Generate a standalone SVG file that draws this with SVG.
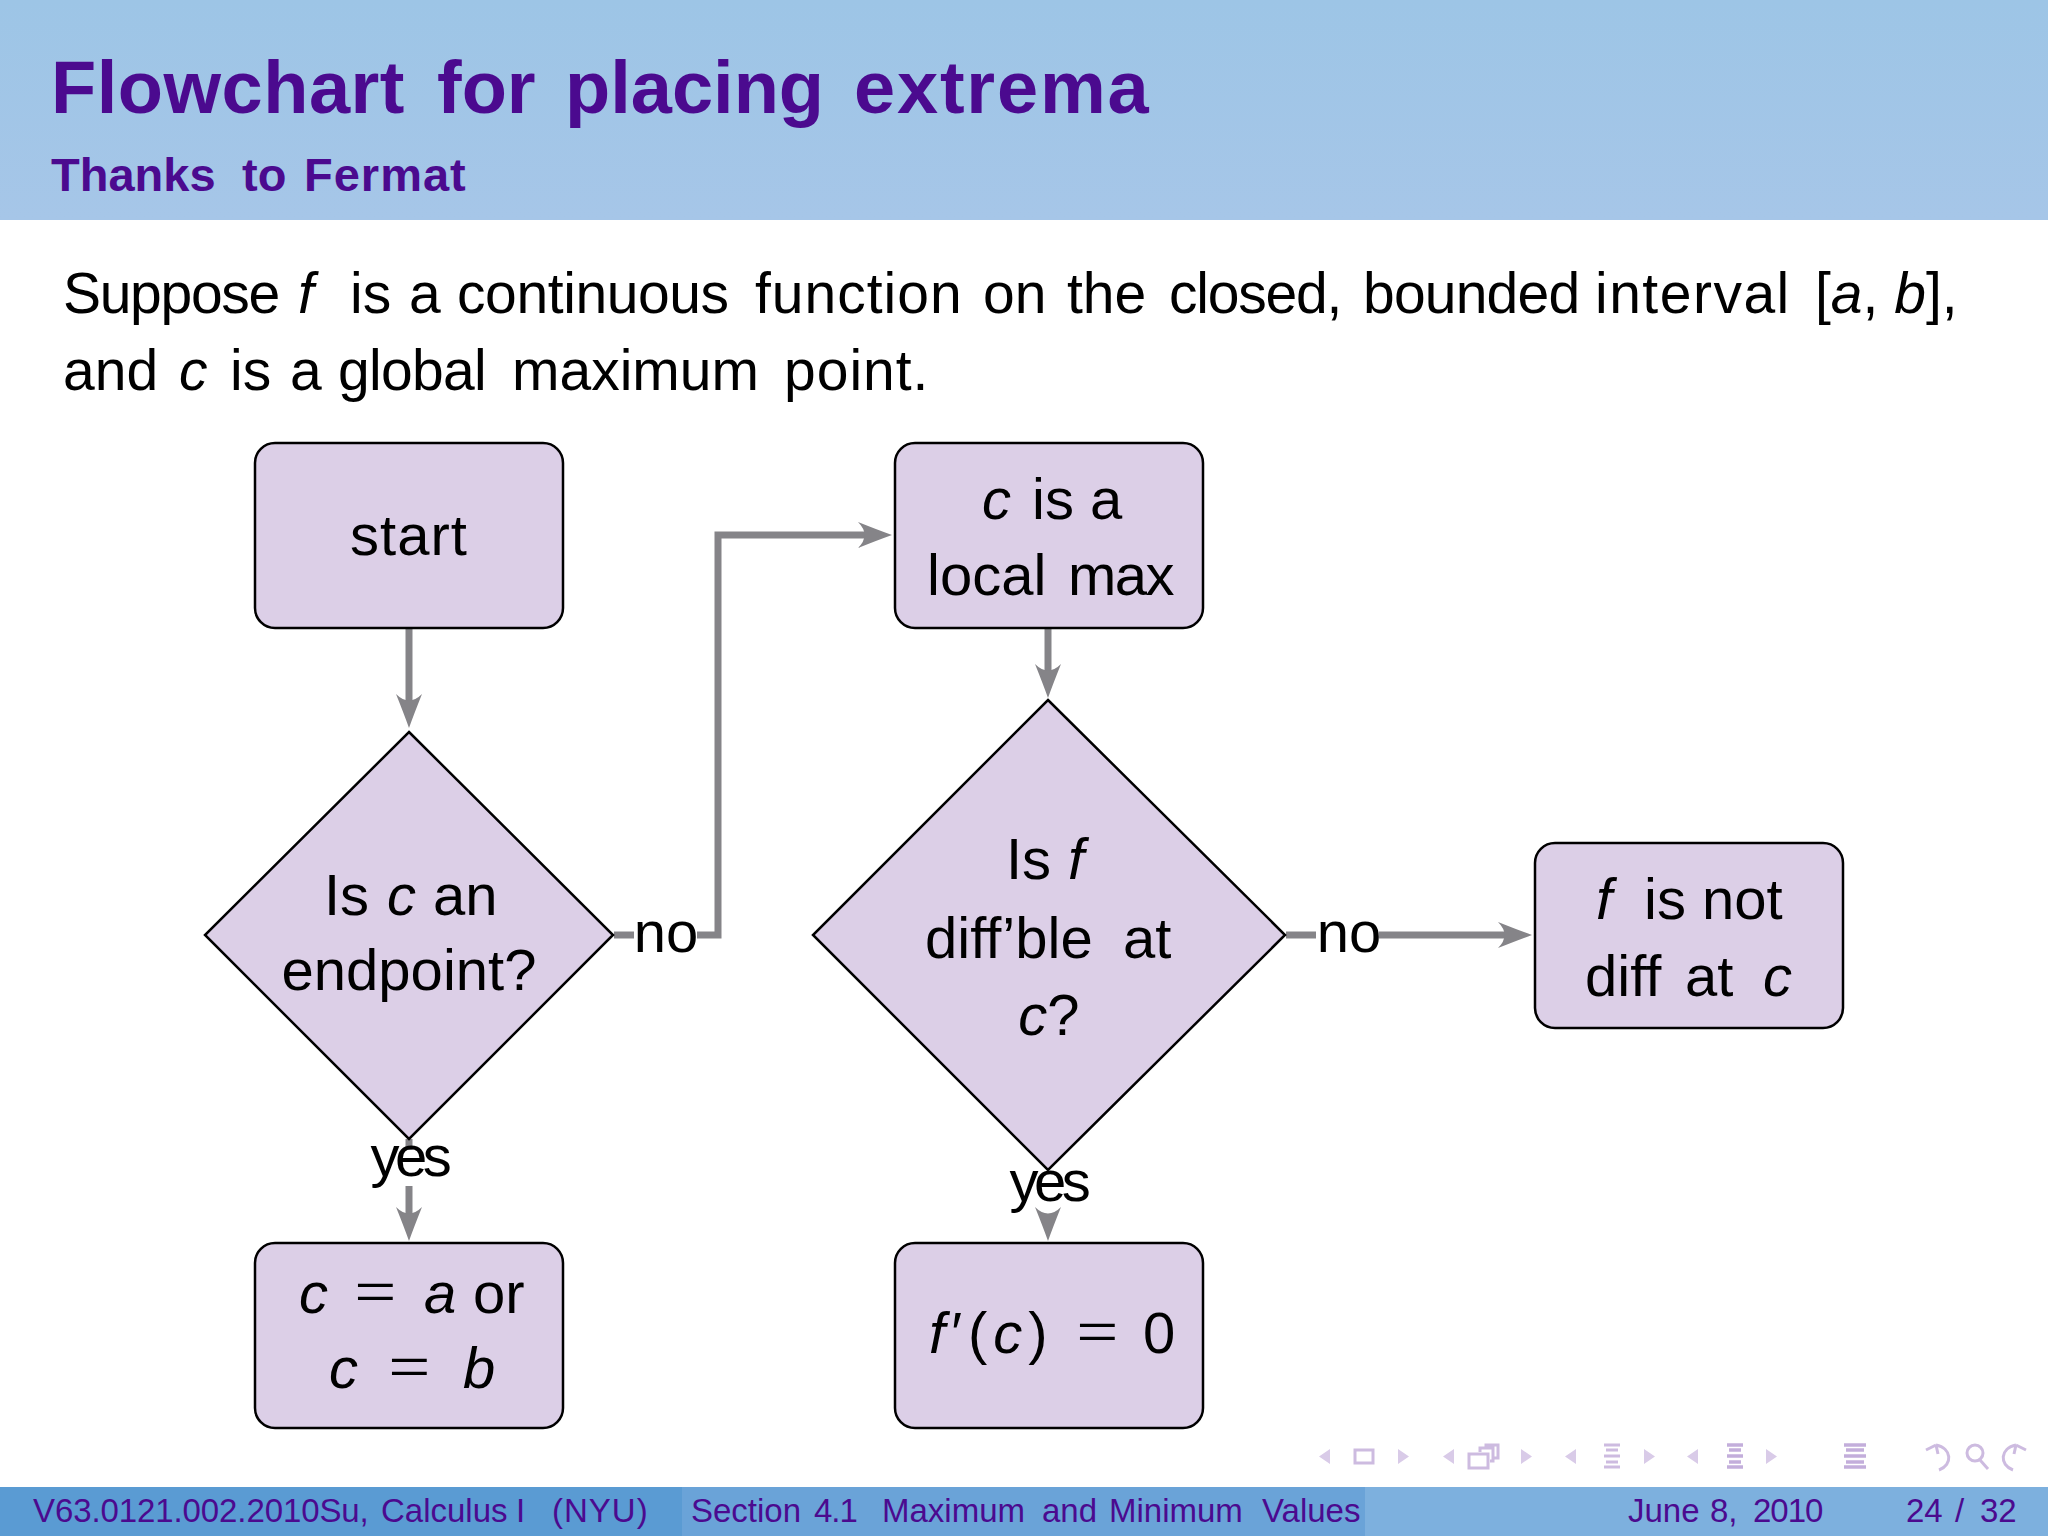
<svg xmlns="http://www.w3.org/2000/svg" width="2048" height="1536" viewBox="0 0 2048 1536">
<style>
text{font-family:"Liberation Sans",Arial,sans-serif;fill:#000}
.t{font-size:58px;text-anchor:middle}
.s{font-size:58px}
.y{letter-spacing:-4.5px}
.e{font-family:Lato,"Liberation Sans",sans-serif;font-weight:300;font-size:84px}
.b{font-size:57px}
.i{font-style:italic}
.f{font-size:33px;fill:#4b0a8f}
.h{fill:#4b0a8f;font-weight:700}
.n{fill:#dccfe7;stroke:#000;stroke-width:2.5}
.c{fill:none;stroke:#858488;stroke-width:7}
.nav{fill:#d9cbe8;stroke:none}
.navs{fill:none;stroke:#cdbbe0;stroke-width:3}
.navb{fill:none;stroke:#c3aedb;stroke-width:3.5}
</style>
<defs>
<linearGradient id="hd" x1="0" y1="0" x2="0" y2="1"><stop offset="0" stop-color="#9dc5e6"/><stop offset="1" stop-color="#a6c6e8"/></linearGradient>
<marker id="a" markerUnits="userSpaceOnUse" markerWidth="40" markerHeight="30" refX="22" refY="15" orient="auto"><path d="M0 2Q20 10 34 15Q20 20 0 28Q13 15 0 2Z" fill="#858488"/></marker>
</defs>
<rect width="2048" height="1536" fill="#fff"/>
<g id="header">
<rect width="2048" height="220" fill="url(#hd)"/>
<text class="h" y="113" font-size="74"><tspan x="51" style="letter-spacing:.5px">Flowchart </tspan><tspan x="437">for </tspan><tspan x="565">placing </tspan><tspan x="854" style="letter-spacing:1.8px">extrema</tspan></text>
<text class="h" y="191" font-size="47"><tspan x="51">Thanks </tspan><tspan x="242">to </tspan><tspan x="304" style="letter-spacing:1px">Fermat</tspan></text>
</g>
<g id="body">
<text class="b" y="313"><tspan x="63" style="letter-spacing:-1.3px">Suppose </tspan><tspan x="298" class="i">f </tspan><tspan x="350">is </tspan><tspan x="409">a </tspan><tspan x="457" style="letter-spacing:-.4px">continuous </tspan><tspan x="755" style="letter-spacing:1px">function </tspan><tspan x="983">on </tspan><tspan x="1067">the </tspan><tspan x="1169" style="letter-spacing:-1.2px">closed, </tspan><tspan x="1363" style="letter-spacing:-.8px">bounded </tspan><tspan x="1595" style="letter-spacing:1.5px">interval </tspan><tspan x="1815">[</tspan><tspan class="i">a</tspan>, <tspan class="i">b</tspan>],</text>
<text class="b" y="390"><tspan x="63">and </tspan><tspan x="179" class="i">c </tspan><tspan x="230">is </tspan><tspan x="290">a </tspan><tspan x="338" style="letter-spacing:-.7px">global </tspan><tspan x="512">maximum </tspan><tspan x="784" style="letter-spacing:1px">point.</tspan></text>
</g>
<g id="connectors">
<path class="c" d="M409 628V716" marker-end="url(#a)"/>
<path class="c" d="M409 1186V1229" marker-end="url(#a)"/>
<path class="c" d="M409 1139V1150"/>
<path class="c" d="M1048 628V686" marker-end="url(#a)"/>
<path class="c" d="M1048 1214V1229" marker-end="url(#a)"/>
<path class="c" d="M614 935H634"/>
<path class="c" d="M697 935H718V535H880" marker-end="url(#a)"/>
<path class="c" d="M1286 935H1316"/>
<path class="c" d="M1379 935H1520" marker-end="url(#a)"/>
</g>
<g id="start"><rect class="n" x="255" y="443" width="308" height="185" rx="20"/><text class="t" x="409" y="555" style="letter-spacing:1px">start</text></g>
<g id="endpoint"><path class="n" d="M409 732L613 935L409 1139L205 935Z"/><text class="s" y="915"><tspan x="324">Is </tspan><tspan x="387" class="i">c </tspan><tspan x="433">an</tspan></text><text class="t" x="409" y="990">endpoint?</text></g>
<g id="localmax"><rect class="n" x="895" y="443" width="308" height="185" rx="20"/><text class="s" y="519"><tspan x="982" class="i">c </tspan><tspan x="1032">is </tspan><tspan x="1090">a</tspan></text><text class="s" y="595"><tspan x="927">local </tspan><tspan x="1068" style="letter-spacing:-1.5px">max</tspan></text></g>
<g id="diffble"><path class="n" d="M1048 700L1285 935L1048 1170L813 935Z"/><text class="s" y="879"><tspan x="1006">Is </tspan><tspan x="1068" class="i">f</tspan></text><text class="s" y="958"><tspan x="925">diff’ble </tspan><tspan x="1123">at</tspan></text><text class="t" x="1049" y="1035"><tspan class="i">c</tspan>?</text></g>
<g id="notdiff"><rect class="n" x="1535" y="843" width="308" height="185" rx="20"/><text class="s" y="919"><tspan x="1596" class="i">f </tspan><tspan x="1644">is </tspan><tspan x="1702">not</tspan></text><text class="s" y="996"><tspan x="1585">diff </tspan><tspan x="1685">at </tspan><tspan x="1763" class="i">c</tspan></text></g>
<g id="endpointresult"><rect class="n" x="255" y="1243" width="308" height="185" rx="20"/><text class="s" y="1313"><tspan x="351" y="1321" class="e">= </tspan><tspan x="299" y="1313" class="i">c </tspan><tspan x="424" class="i">a </tspan><tspan x="473">or</tspan></text><text class="s" y="1388"><tspan x="329" class="i">c </tspan><tspan x="385" y="1396" class="e">= </tspan><tspan x="463" y="1388" class="i">b</tspan></text></g>
<g id="zero"><rect class="n" x="895" y="1243" width="308" height="185" rx="20"/><text class="s" y="1353"><tspan x="929" style="letter-spacing:6px"><tspan class="i">f</tspan>′(<tspan class="i">c</tspan>) </tspan><tspan x="1073" y="1361" class="e">= </tspan><tspan x="1143" y="1353">0</tspan></text></g>
<g id="labels">
<text class="t" x="666" y="952">no</text>
<text class="t" x="1349" y="952">no</text>
<text class="t y" x="409" y="1176">yes</text>
<text class="t y" x="1048" y="1201">yes</text>
</g>
<g id="footer">
<rect y="1487" width="682" height="49" fill="#5a9bd3"/>
<rect x="682" y="1487" width="683" height="49" fill="#6aa3d8"/>
<rect x="1365" y="1487" width="683" height="49" fill="#7db0de"/>
<text class="f" y="1522"><tspan x="33" style="letter-spacing:-.1px">V63.0121.002.2010Su, </tspan><tspan x="381">Calculus </tspan><tspan x="516">I </tspan><tspan x="552" style="letter-spacing:1px">(NYU)</tspan></text>
<text class="f" y="1522"><tspan x="691">Section </tspan><tspan x="814" style="letter-spacing:-1px">4.1</tspan></text>
<text class="f" y="1522"><tspan x="882">Maximum </tspan><tspan x="1042">and </tspan><tspan x="1109">Minimum </tspan><tspan x="1262">Values</tspan></text>
<text class="f" y="1522"><tspan x="1628">June </tspan><tspan x="1710">8, </tspan><tspan x="1753" style="letter-spacing:-1px">2010</tspan></text>
<text class="f" y="1522"><tspan x="1906">24 </tspan><tspan x="1955">/ </tspan><tspan x="1980">32</tspan></text>
</g>
<g id="navigation">
<path class="nav" d="M1330 1449l-11 7.500 11 7.500zM1398 1449l11 7.500-11 7.500zM1454 1449l-11 7.500 11 7.500zM1521 1449l11 7.500-11 7.500zM1576 1449l-11 7.500 11 7.500zM1644 1449l11 7.500-11 7.500zM1698 1449l-11 7.500 11 7.500zM1766 1449l11 7.500-11 7.500z"/>
<rect class="navs" x="1355" y="1450" width="18" height="13"/>
<path class="navs" d="M1480 1452v-4h13v13h-3M1486 1448v-3h12v13h-5"/><rect class="navs" x="1469" y="1454" width="19" height="14"/>
<path class="navs" d="M1604 1445h16M1606 1450h12M1604 1456h16M1606 1462h12M1604 1467h16"/>
<path class="navb" d="M1727 1445h16M1729 1450h12M1727 1456h16M1729 1462h12M1727 1467h16"/>
<path class="navb" d="M1844 1445h22M1846 1450h18M1844 1456h22M1846 1462h18M1844 1467h22"/>
<path class="navs" d="M1936 1445c16 3 17 20 3 25M1936 1445l-10 5M1936 1445l2 9"/>
<circle class="navs" cx="1975" cy="1453" r="8"/><path class="navs" d="M1980 1460l8 9"/>
<path class="navs" d="M2016 1445c-16 3-17 20-3 25M2016 1445l10 5M2016 1445l-2 9"/>
</g>
</svg>
